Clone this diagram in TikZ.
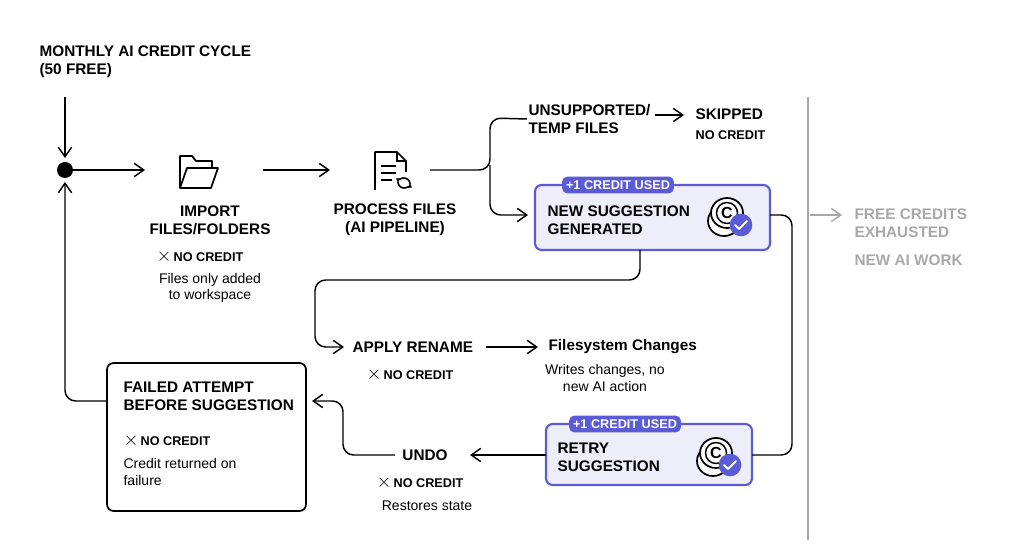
\documentclass[tikz,border=0pt]{standalone}
\usepackage{fontspec}
\setmainfont{Liberation Sans}
\usetikzlibrary{arrows.meta, positioning}

\definecolor{accent}{HTML}{5B5BD6}
\definecolor{lav}{HTML}{EEEEFB}
\definecolor{fade}{HTML}{A8A8A8}

\newcommand{\coin}[2]{% position, name
  \begin{scope}[shift={#1}]
    \draw[line width=1.3pt, fill=white] (-3,8) ellipse (16 and 15);
    \draw[line width=1.3pt, fill=white] (0,0) ellipse (16 and 15);
    \draw[line width=1.1pt] (0,0) circle (10.5);
    \node[font=\bfseries\large] at (0,0) {C};
    \node[circle, fill=accent, minimum size=17pt, inner sep=0pt] (#2) at (14,12) {};
    \draw[white, line width=1.5pt, line cap=round, line join=round] (8,12) -- (12,16) -- (20,8);
  \end{scope}}
\newcommand{\nocross}{{\fontsize{14}{11}\selectfont$\times$}\,}

\begin{document}
\begin{tikzpicture}[x=0.75pt, y=-0.75pt,
    Arr/.style={-{Straight Barb[length=2.5mm, width=3.5mm]}, line width=1.1pt},
    Line/.style={line width=1.1pt, rounded corners=8pt},
    head/.style={font=\bfseries\fontsize{11.5}{13.5}\selectfont, align=center, inner sep=1pt},
    note/.style={font=\fontsize{10.5}{12.5}\selectfont, align=center, inner sep=1pt},
    nocr/.style={font=\bfseries\fontsize{9.5}{11}\selectfont, inner sep=1pt},
    credbox/.style={draw=accent, fill=lav, line width=1.6pt, rounded corners=5pt},
    badge/.style={fill=accent, text=white, rounded corners=4pt, font=\bfseries\fontsize{9.5}{11}\selectfont, inner sep=3pt},
  ]
  \useasboundingbox (0,0) rectangle (1024,559);

  % title and start
  \node[head, align=left, anchor=north west] (title) at (38,44) {MONTHLY AI CREDIT CYCLE\\(50 FREE)};
  \fill (65,170) circle (8);
  \coordinate (dot) at (65,170);
  \coordinate (top) at (65,97);
  \draw[Arr] (top) -- (65,158);

  % import
  \draw[line width=1.3pt, line join=round] (180,188) -- (180,156) -- (192,156) -- (196,161) -- (212,161) -- (212,167);
  \draw[line width=1.3pt, line join=round] (180,188) -- (187,168) -- (218,168) -- (211,188) -- cycle;
  \node[head] (import) at (210,220) {IMPORT\\FILES/FOLDERS};
  \node[nocr] (import_nc) at (200,257) {\nocross NO CREDIT};
  \node[note] (import_note) at (210,288) {Files only added\\to workspace};
  \draw[Arr] (dot) -- (145,170);
  \draw[Arr] (263,170) -- (330,170);

  % process
  \draw[line width=1.3pt, line join=round] (375,190) -- (375,152) -- (397,152) -- (406,161) -- (406,172);
  \draw[line width=1.2pt] (397,152) -- (397,161) -- (406,161);
  \draw[line width=1.2pt] (381,166) -- (396,166) (381,173) -- (396,173) (381,180) -- (392,180);
  \draw[line width=1.2pt, -{Latex[length=1.5mm]}] (398,182) arc (180:0:6);
  \draw[line width=1.2pt, -{Latex[length=1.5mm]}] (410,184) arc (0:-180:6);
  \node[head] (process) at (395,220) {PROCESS FILES\\(AI PIPELINE)};

  % branch
  \node[head, align=left, anchor=west] (unsup) at (527,119) {UNSUPPORTED/\\TEMP FILES};
  \node[head, anchor=west] (skipped) at (694,114) {SKIPPED};
  \node[nocr, anchor=west] (skip_nc) at (694,135) {NO CREDIT};
  \draw[Line] (430,170) -- (490,170) -- (490,118) -- (unsup.west);
  \draw[Arr, rounded corners=8pt] (490,165) -- (490,215) -- (528,215);
  \draw[Arr] (655,115) -- (684,115);

  % new suggestion
  \draw[credbox] (535,185) rectangle (770,250);
  \node[badge] (badge1) at (618,185) {+1 CREDIT USED};
  \node[head, align=left, anchor=west] (newsug) at (546,220) {NEW SUGGESTION\\GENERATED};
  \coin{(727,213)}{check1}

  % exhausted
  \draw[fade, line width=1.3pt] (808,97) -- (808,540);
  \draw[Arr, fade] (810,215) -- (842,215);
  \node[head, fade, align=left, anchor=west] (exhaust) at (853,223) {FREE CREDITS\\EXHAUSTED};
  \node[head, fade, anchor=west] (newai) at (853,260) {NEW AI WORK};

  % apply rename
  \node[head, anchor=west] (apply) at (351,347) {APPLY RENAME};
  \node[nocr] (apply_nc) at (410,375) {\nocross NO CREDIT};
  \node[head, anchor=west] (fs) at (547,347) {Filesystem Changes};
  \node[note] (fs_note) at (605,378) {Writes changes, no\\new AI action};
  \draw[Arr, rounded corners=8pt] (640,250) -- (640,280) -- (315,280) -- (315,347) -- (344,347);
  \draw[Arr] (486,347) -- (538,347);

  % retry
  \draw[credbox] (546,424) rectangle (752,485);
  \node[badge] (badge2) at (625,424) {+1 CREDIT USED};
  \node[head, align=left, anchor=west] (retry) at (556,457) {RETRY\\SUGGESTION};
  \coin{(716,453)}{check2}
  \draw[Line] (770,215) -- (792,215) -- (792,455) -- (752,455);

  % undo
  \node[head] (undo) at (425,455) {UNDO};
  \node[nocr] (undo_nc) at (420,483) {\nocross NO CREDIT};
  \node[note] (undo_note) at (427,506) {Restores state};
  \draw[Arr] (546,455) -- (470,455);
  \draw[Arr, rounded corners=8pt] (395,455) -- (343,455) -- (343,401) -- (312,401);

  % failed
  \draw[line width=1.3pt, rounded corners=5pt] (107,363) rectangle (306,511);
  \node[head, align=left, anchor=north west] (failed) at (122,380) {FAILED ATTEMPT\\BEFORE SUGGESTION};
  \node[nocr, anchor=west] (failed_nc) at (122,441) {\nocross NO CREDIT};
  \node[note, align=left, anchor=north west] (failed_note) at (122,457) {Credit returned on\\failure};
  \draw[Arr, rounded corners=8pt] (107,401) -- (65,401) -- (65,182);
\end{tikzpicture}
\end{document}
